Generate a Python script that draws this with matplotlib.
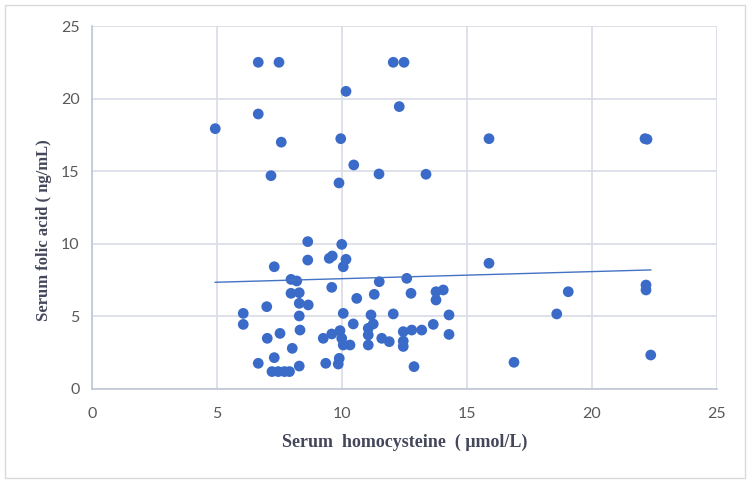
import numpy as np
import matplotlib
matplotlib.use("Agg")
import matplotlib.pyplot as plt
from matplotlib.patches import Rectangle

homocysteine = [
    6.65, 7.48, 12.05, 12.48, 10.16, 12.29, 6.65, 4.93, 7.57, 9.95, 15.88, 22.12, 22.2,
    10.47, 7.16, 11.48, 13.36, 9.88,
    8.63, 9.99, 8.63, 9.49, 9.61, 10.16, 10.05, 7.29, 15.88, 7.96, 8.19, 11.49, 12.59,
    9.59, 22.16, 22.16, 7.96, 8.29, 12.76, 13.76, 14.05, 13.76, 19.05, 11.29, 10.59,
    8.29, 8.65, 6.99,
    6.05, 6.05, 8.29, 10.05, 11.16, 12.05, 14.28, 18.59, 10.45, 11.25, 13.65, 8.32,
    9.92, 11.05, 12.79, 13.19, 7.52, 9.59, 11.05, 12.45, 14.28, 7.01, 9.25, 9.99,
    11.59, 12.45, 11.89, 10.05, 10.32, 11.05, 12.45, 8.01, 22.35, 7.29, 9.89, 6.65,
    9.35, 9.85, 16.88, 8.29, 12.88, 7.2, 7.45, 7.7, 7.9,
]
folic_acid = [
    22.5, 22.5, 22.5, 22.5, 20.5, 19.45, 18.94, 17.93, 17.0, 17.24, 17.24, 17.24, 17.2,
    15.43, 14.69, 14.81, 14.79, 14.19,
    10.15, 9.96, 8.88, 9.0, 9.16, 8.93, 8.42, 8.42, 8.66, 7.55, 7.44, 7.39, 7.62,
    7.0, 7.16, 6.82, 6.59, 6.63, 6.59, 6.70, 6.82, 6.13, 6.70, 6.52, 6.24,
    5.9, 5.79, 5.67,
    5.21, 4.45, 5.03, 5.21, 5.10, 5.17, 5.10, 5.17, 4.48, 4.48, 4.45, 4.06,
    4.02, 4.18, 4.06, 4.06, 3.83, 3.79, 3.72, 3.95, 3.76, 3.49, 3.49, 3.49,
    3.49, 3.3, 3.26, 3.03, 3.03, 3.03, 2.93, 2.80, 2.34, 2.16, 2.11, 1.77,
    1.77, 1.72, 1.84, 1.58, 1.54, 1.2, 1.2, 1.2, 1.2,
]
# linear trendline end points
trend_x = [4.93, 22.35]
trend_y = [7.35, 8.2]
x_ticks = [0, 5, 10, 15, 20, 25]
y_ticks = [0, 5, 10, 15, 20, 25]

fig = plt.figure(figsize=(7.5, 4.88), dpi=100)
ax = fig.add_axes([92/750, 1-389/488, (717-92)/750, (389-26)/488])

grid_c = "#D9DCE6"
ax.set_xlim(0, 25)
ax.set_ylim(0, 25)
ax.set_xticks(x_ticks)
ax.set_yticks(y_ticks)
ax.grid(True, color=grid_c, linewidth=1.2)
ax.set_axisbelow(True)
for s in ["top", "right"]:
    ax.spines[s].set_visible(False)
for s in ["left", "bottom"]:
    ax.spines[s].set_color("#BFC6D6")
    ax.spines[s].set_linewidth(1.2)
ax.tick_params(axis="x", length=0, labelsize=11.5, labelcolor="#595959", pad=13)
ax.tick_params(axis="y", length=0, labelsize=11.5, labelcolor="#595959", pad=9)
for lab in ax.get_xticklabels() + ax.get_yticklabels():
    lab.set_fontfamily("Lato")

ax.scatter(homocysteine, folic_acid, s=60, color="#3A6BC8", edgecolors="none", zorder=3)
ax.plot(trend_x, trend_y, color="#4472C4", linewidth=1.0, zorder=4)

ax.set_xlabel("Serum  homocysteine  ( μmol/L)", fontfamily="Liberation Serif",
              fontweight="bold", fontsize=13, color="#44475A")
ax.xaxis.set_label_coords(0.5, -0.123)
ax.set_ylabel("Serum folic acid ( ng/mL)", fontfamily="Liberation Serif",
              fontweight="bold", fontsize=12, color="#44475A")
ax.yaxis.set_label_coords(-0.064, 0.438)

fig.patches.append(Rectangle((5/750, 1-478/488), 740/750, 473/488, transform=fig.transFigure,
                             fill=False, edgecolor="#D9D9D9", linewidth=1.0))

fig.savefig("out.png", dpi=100)
